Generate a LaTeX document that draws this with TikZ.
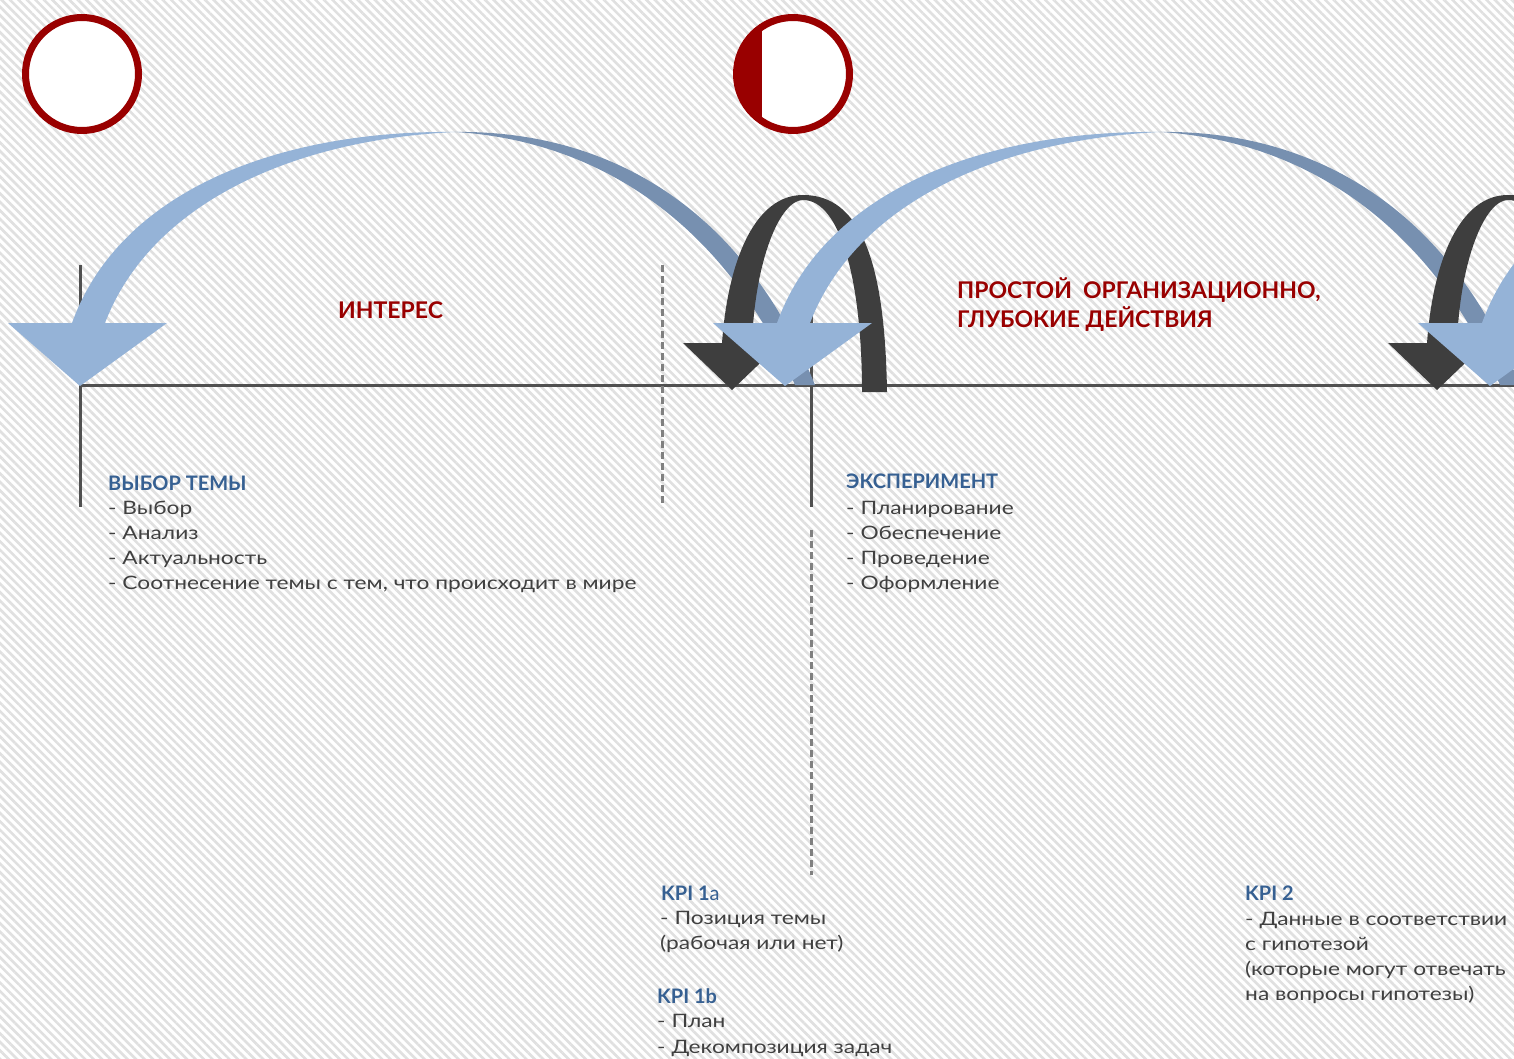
\documentclass[tikz,border=0pt]{standalone}
\usepackage{fontspec}
\setmainfont{Lato}
\newfontfamily\bodyfont{Lato}[FakeStretch=1.23]
\usetikzlibrary{patterns.meta}

\definecolor{darkred}{RGB}{153,0,0}
\definecolor{headblue}{RGB}{54,96,146}
\definecolor{bodygray}{RGB}{64,64,64}
\definecolor{archgray}{RGB}{62,62,62}
\definecolor{frontblue}{RGB}{149,179,215}
\definecolor{backblue}{RGB}{119,144,176}
\definecolor{linegray}{RGB}{80,80,80}
\definecolor{hatchgray}{RGB}{224,224,224}

\begin{document}
\begin{tikzpicture}[x=1pt,y=-1pt,
    ring/.style={circle,draw=darkred,line width=7pt,fill=white,minimum size=113pt,inner sep=0pt},
    axis/.style={draw=linegray,line width=3pt},
    dashline/.style={draw=gray,line width=3pt,dash pattern=on 7pt off 4pt},
    title/.style={text=darkred,font=\bfseries\fontsize{23}{29}\selectfont,anchor=base west,inner sep=0pt},
    head/.style={text=headblue,font=\bfseries\fontsize{20}{25}\selectfont,anchor=base west,inner sep=0pt},
    item/.style={text=bodygray,font=\bodyfont\fontsize{18.5}{25}\selectfont,anchor=base west,inner sep=0pt},
    front/.style={fill=frontblue},
    back/.style={fill=backblue},
    arch/.style={fill=archgray}]

  \useasboundingbox (0,0) rectangle (1514,1059);
  \clip (0,0) rectangle (1514,1059);

  % hatched background
  \fill[white] (0,0) rectangle (1514,1059);
  \fill[pattern={Lines[angle=-45,distance=6pt,line width=2.6pt]},pattern color=hatchgray]
    (0,0) rectangle (1514,1059);

  % time line
  \coordinate (t0) at (80,385);
  \coordinate (tend) at (1514,385);
  \coordinate (s0) at (80,265);
  \coordinate (s1) at (80,507);
  \coordinate (m0) at (662,265);
  \coordinate (m1) at (662,507);
  \coordinate (e0) at (811,265);
  \coordinate (e1) at (811,507);
  \coordinate (k0) at (811,530);
  \coordinate (k1) at (811,875);

  \draw[axis] (t0) -- (tend);
  \draw[axis] (s0) -- (s1);
  \draw[axis] (e0) -- (e1);
  \draw[dashline] (m0) -- (m1);
  \draw[dashline] (k0) -- (k1);

  % back halves of the jumps
  \foreach \s in {0,705}
    \fill[back,xshift=\s] (455,132) .. controls (600,130) and (740,200) .. (815,385)
      -- (795,385) .. controls (720,215) and (590,140) .. (455,132) -- cycle;

  % dark loops
  \foreach \s in {0,705}
    \fill[arch,xshift=\s] (887,392) .. controls (885,260) and (860,195) .. (803,195)
      .. controls (755,195) and (728,260) .. (722,343) -- (683,343) -- (732,390) -- (781,343)
      -- (752,343) .. controls (755,260) and (780,200) .. (803,200)
      .. controls (840,200) and (862,280) .. (862,392) -- cycle;

  % front halves with heads
  \foreach \s in {0,705,1410}
    \fill[front,xshift=\s] (72,323) .. controls (120,190) and (280,130) .. (455,132)
      .. controls (290,140) and (150,205) .. (105,323) -- (167,323) -- (80,386)
      -- (8,323) -- cycle;

  % phase marks
  \node[ring] (c1) at (82,74) {};
  \node[ring] (c2) at (793,74) {};
  \begin{scope}
    \clip (c2.center) circle (56.5);
    \fill[darkred] (720,0) rectangle (762,150);
  \end{scope}

  % labels
  \node[title] (interest) at (338,318) {ИНТЕРЕС};
  \node[title] (deep1) at (957,298) {ПРОСТОЙ\ \ ОРГАНИЗАЦИОННО,};
  \node[title] (deep2) at (957,327) {ГЛУБОКИЕ ДЕЙСТВИЯ};

  \node[head] (topic) at (108,490) {ВЫБОР ТЕМЫ};
  \foreach \t [count=\i] in {Выбор, Анализ, Актуальность,
      {Соотнесение темы с тем, что происходит в мире}}
    \node[item] (topic-\i) at (108,{489+25*\i}) {- \t};

  \node[head] (exp) at (846,488) {ЭКСПЕРИМЕНТ};
  \foreach \t [count=\i] in {Планирование, Обеспечение, Проведение, Оформление}
    \node[item] (exp-\i) at (846,{489+25*\i}) {- \t};

  \node[head] (kpi1a) at (661,900) {KPI 1\mdseries a};
  \node[item] (kpi1a-1) at (660,924) {- Позиция темы};
  \node[item] (kpi1a-2) at (660,949) {(рабочая или нет)};

  \node[head] (kpi1b) at (657,1003) {KPI 1b};
  \node[item] (kpi1b-1) at (657,1027) {- План};
  \node[item] (kpi1b-2) at (657,1053) {- Декомпозиция задач};

  \node[head] (kpi2) at (1245,900) {KPI 2};
  \foreach \t [count=\i] in {{- Данные в соответствии}, {с гипотезой},
      {(которые могут отвечать}, {на вопросы гипотезы)}}
    \node[item] (kpi2-\i) at (1245,{900+25*\i}) {\t};
\end{tikzpicture}
\end{document}
